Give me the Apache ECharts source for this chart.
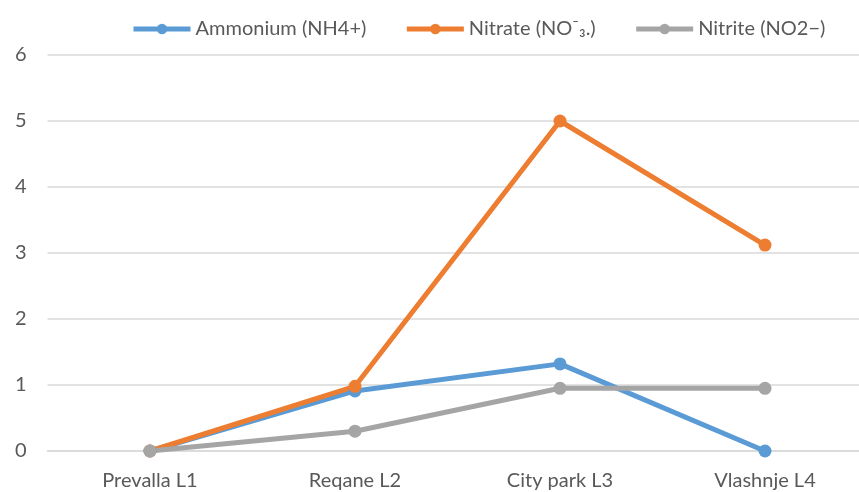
<!DOCTYPE html>
<html>
<head>
<meta charset="utf-8">
<script src="https://cdn.jsdelivr.net/npm/echarts@6/dist/echarts.min.js"></script>
<style>
  html, body { margin: 0; padding: 0; background: #fff; }
  #main { width: 859px; height: 492px; }
</style>
</head>
<body>
<div id="main"></div>
<script>
  // sampling sites
  const sites = ['Prevalla L1', 'Reqane L2', 'City park L3', 'Vlashnje L4']
  // concentrations
  const ammonium = [0, 0.91, 1.32, 0]
  const nitrate = [0, 0.98, 5.0, 3.12]
  const nitrite = [0, 0.3, 0.95, 0.95]
  const yTicks = [0, 1, 2, 3, 4, 5, 6]

  const fontFamily = 'Lato, "Liberation Sans", sans-serif'

  const myChart = echarts.init(document.getElementById('main'))

  function lineSeries(name, data, color) {
    return {
      name: name,
      type: 'line',
      data: data,
      symbol: 'circle',
      symbolSize: 13,
      itemStyle: { color: color },
      lineStyle: { width: 5, color: color },
      emphasis: { disabled: true }
    }
  }

  myChart.setOption({
    animation: false,
    color: ['#5B9BD5', '#ED7D31', '#A5A5A5'],
    legend: {
      top: 14,
      left: 126,
      itemWidth: 57,
      itemHeight: 13,
      itemGap: 38,
      lineStyle: { width: 5 },
      textStyle: { fontFamily: fontFamily, fontSize: 20, color: '#595959' },
      data: ['Ammonium (NH4+)', 'Nitrate (NO⁻₃.)', 'Nitrite (NO2−)']
    },
    grid: {
      left: 47.5,
      top: 55,
      right: -8.5,
      bottom: 41,
      outerBoundsMode: 'none'
    },
    xAxis: {
      type: 'category',
      boundaryGap: true,
      data: sites,
      axisLine: { lineStyle: { color: '#d9d9d9', width: 1.5 } },
      axisTick: { show: false },
      axisLabel: { margin: 20, fontFamily: fontFamily, fontSize: 20, color: '#595959' }
    },
    yAxis: {
      type: 'value',
      min: yTicks[0],
      max: yTicks[yTicks.length - 1],
      interval: 1,
      axisLine: { show: false },
      axisTick: { show: false },
      splitLine: { lineStyle: { color: '#d9d9d9', width: 1.5 } },
      axisLabel: { margin: 21, fontFamily: fontFamily, fontSize: 20, color: '#595959' }
    },
    series: [
      lineSeries('Ammonium (NH4+)', ammonium, '#5B9BD5'),
      lineSeries('Nitrate (NO⁻₃.)', nitrate, '#ED7D31'),
      lineSeries('Nitrite (NO2−)', nitrite, '#A5A5A5')
    ]
  })
</script>
</body>
</html>
